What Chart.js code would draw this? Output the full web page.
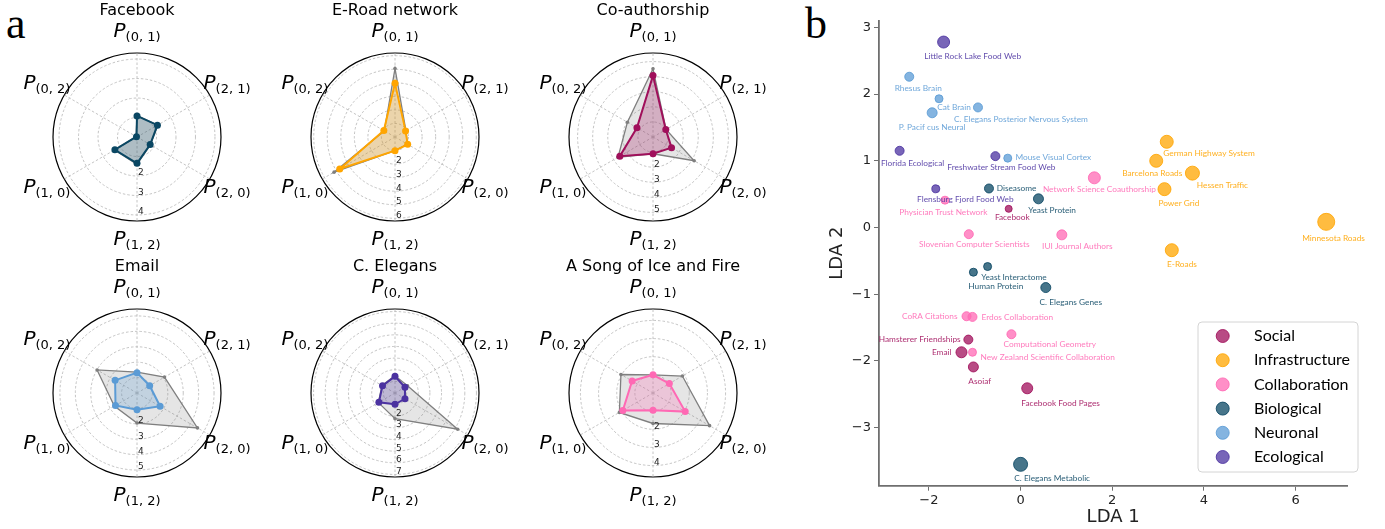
<!DOCTYPE html>
<html><head><meta charset="utf-8">
<script src="https://cdn.jsdelivr.net/npm/chart.js@4.4.1/dist/chart.umd.min.js"></script>
<style>
html,body{margin:0;padding:0;background:#fff;}
#wrap{position:relative;width:1385px;height:529px;overflow:hidden;background:#fff;}
canvas{position:absolute;}
.panel{position:absolute;font-family:"Liberation Serif",serif;font-size:44px;line-height:44px;color:#000;}
</style></head><body>
<div id="wrap">
<div class="panel" style="left:6px;top:2px">a</div>
<div class="panel" style="left:805px;top:2px">b</div>
<canvas id="r0" width="270" height="260" style="left:2px;top:0px"></canvas>
<canvas id="r1" width="270" height="260" style="left:260px;top:0px"></canvas>
<canvas id="r2" width="270" height="260" style="left:518px;top:0px"></canvas>
<canvas id="r3" width="270" height="260" style="left:2px;top:256px"></canvas>
<canvas id="r4" width="270" height="260" style="left:260px;top:256px"></canvas>
<canvas id="r5" width="270" height="260" style="left:518px;top:256px"></canvas>
<canvas id="sc" width="575" height="529" style="left:810px;top:0px"></canvas>
</div>
<script>
// ---------- Radar data (panel a) ----------
const radarAxes = ['(0, 1)', '(2, 1)', '(2, 0)', '(1, 2)', '(1, 0)', '(0, 2)'];
const radarTitles = ['Facebook', 'E-Road network', 'Co-authorship', 'Email', 'C. Elegans', 'A Song of Ice and Fire'];
const facebookValues    = [1.08, 1.21, 0.78, 1.35, 1.31, 0.03];
const facebookReference = [1.10, 1.23, 0.80, 1.40, 1.33, 0.05];
const eroadValues       = [3.96, 0.90, 1.08, 1.01, 4.71, 0.95];
const eroadReference    = [5.06, 0.93, 1.06, 1.01, 5.19, 0.91];
const coauthValues      = [4.07, 0.98, 1.42, 1.11, 2.54, 1.23];
const coauthReference   = [4.52, 1.00, 3.15, 1.11, 2.68, 1.96];
const emailValues       = [1.32, 0.95, 1.73, 1.08, 1.61, 1.64];
const emailReference    = [1.36, 2.06, 4.53, 1.95, 1.70, 2.99];
const celegansValues    = [1.43, 0.99, 0.99, 0.97, 1.60, 1.24];
const celegansReference = [1.49, 1.24, 6.22, 2.21, 1.65, 1.29];
const asoiafValues      = [1.00, 1.04, 2.05, 0.95, 1.92, 1.33];
const asoiafReference   = [1.00, 1.87, 3.60, 1.68, 2.14, 2.04];
const radarMax = [4.31, 6.2, 5.57, 5.45, 7.22, 4.63];
const radarTickLabels = [[2,3,4],[2,3,4,5,6],[2,3,4,5],[2,3,4,5],[2,3,4,5,6,7],[2,3,4]];

// ---------- Scatter data (panel b) ----------
const categories = ['Social', 'Infrastructure', 'Collaboration', 'Biological', 'Neuronal', 'Ecological'];
const networkNames = [
 'Little Rock Lake Food Web','Rhesus Brain','Cat Brain','C. Elegans Posterior Nervous System','P. Pacif cus Neural',
 'Florida Ecological','Freshwater Stream Food Web','Mouse Visual Cortex','Network Science Coauthorship','Diseasome',
 'Flensburg Fjord Food Web','Physician Trust Network','Yeast Protein','Facebook','Slovenian Computer Scientists',
 'IUI Journal Authors','Human Protein','Yeast Interactome','C. Elegans Genes','CoRA Citations',
 'Erdos Collaboration','Computational Geometry','Hamsterer Friendships','Email','New Zealand Scientific Collaboration',
 'Asoiaf','Facebook Food Pages','C. Elegans Metabolic','German Highway System','Barcelona Roads',
 'Hessen Traffic','Power Grid','Minnesota Roads','E-Roads'];
const networkCategory = [
 'Ecological','Neuronal','Neuronal','Neuronal','Neuronal',
 'Ecological','Ecological','Neuronal','Collaboration','Biological',
 'Ecological','Collaboration','Biological','Social','Collaboration',
 'Collaboration','Biological','Biological','Biological','Collaboration',
 'Collaboration','Collaboration','Social','Social','Collaboration',
 'Social','Social','Biological','Infrastructure','Infrastructure',
 'Infrastructure','Infrastructure','Infrastructure','Infrastructure'];
const lda1 = [-1.68,-2.43,-1.78,-0.93,-1.93, -2.64,-0.55,-0.28,1.61,-0.69, -1.85,-1.65,0.39,-0.26,-1.13,
              0.90,-1.03,-0.72,0.55,-1.18, -1.05,-0.20,-1.14,-1.29,-1.05, -1.03,0.145,0.0,3.19,2.96, 3.75,3.14,6.67,3.30];
const lda2 = [2.78,2.26,1.93,1.80,1.72, 1.15,1.07,1.04,0.745,0.585, 0.58,0.41,0.43,0.28,-0.10,
              -0.11,-0.67,-0.585,-0.90,-1.33, -1.34,-1.60,-1.68,-1.87,-1.87, -2.09,-2.41,-3.55,1.285,1.00, 0.815,0.575,0.085,-0.34];
const networkSize = [6,4.5,4,4.5,5, 4.5,4.5,4,6,4.5, 4,4,5,3.5,4.5, 5,4,4,5,4.5, 4.5,4.5,4.5,5.5,4, 5,5.5,7,6.5,6.5, 7,6.5,8.5,6.5];
const xTicks = [-2, 0, 2, 4, 6];
const yTicks = [-3, -2, -1, 0, 1, 2, 3];

// ---------- styles / layout ----------
const radarColors = ['#0a4763', '#ffa500', '#a00f5b', '#5b9bd5', '#4b32a0', '#ff69b4'];
const catColors = {Social:'#a00f5b', Infrastructure:'#ffa500', Collaboration:'#ff69b4', Biological:'#0a4763', Neuronal:'#5b9bd5', Ecological:'#4b32a0'};
// label placement [align, dx px, dy px] relative to the marker
const labelPlacement = [
 ['center',29,14],['center',9,11.7],['center',15,8.3],['center',43,11.7],['center',0,14.3],
 ['center',13,12.7],['center',6,10.7],['left',7.7,-1.3],['center',5,12],['left',7.7,0],
 ['center',29.5,10],['center',-1.6,11.7],['center',13.6,11.3],['center',3.6,8.3],['center',5.5,10],
 ['center',15.5,11],['center',22.4,13.7],['center',26.3,10.3],['center',25,14.3],['right',-9,0],
 ['left',9,0],['center',38.3,9.7],['right',-7.7,0],['right',-10,0],['left',8,5.3],
 ['center',6.4,14],['center',33.4,14.7],['center',31.6,14.3],['center',42.3,11.3],['center',-4,12.3],
 ['center',30,11.7],['center',14.5,13.7],['center',7.3,16],['center',10.2,13.7]];

function rgba(hex, a) { const n = parseInt(hex.slice(1), 16); return `rgba(${n >> 16},${(n >> 8) & 255},${n & 255},${a})`; }

Chart.defaults.font.family = '"DejaVu Sans", sans-serif';

const radarDecor = {
  id: 'radarDecor',
  afterDraw(chart, args, opts) {
    const s = chart.scales.r, ctx = chart.ctx, R = s.drawingArea;
    ctx.save();
    ctx.fillStyle = '#000';
    ctx.font = '16px "DejaVu Sans"';
    ctx.textAlign = 'center'; ctx.textBaseline = 'middle';
    ctx.fillText(opts.title, s.xCenter, s.yCenter - 126);
    ctx.font = '9px "DejaVu Sans"';
    ctx.textAlign = 'left'; ctx.fillStyle = '#222';
    opts.tickLabels.forEach(v => ctx.fillText(String(v), s.xCenter + 1, s.yCenter + s.getDistanceFromCenterForValue(v) - 3));
    ctx.textBaseline = 'alphabetic'; ctx.fillStyle = '#000';
    chart.data.labels.forEach((lab, i) => {
      const p = s.getPointPosition(i, R + 20);
      ctx.font = 'italic 20px "DejaVu Sans"';
      const wP = ctx.measureText('P').width;
      ctx.font = '13px "DejaVu Sans"';
      const wS = ctx.measureText(lab).width;
      const x0 = p.x - (wP + wS) / 2, base = p.y + 4.4;
      ctx.font = 'italic 20px "DejaVu Sans"';
      ctx.textAlign = 'left';
      ctx.fillText('P', x0, base);
      ctx.font = '13px "DejaVu Sans"';
      ctx.fillText(lab, x0 + wP, base + 4);
    });
    ctx.restore();
  }
};

function makeRadar(id, title, vals, ref, maxV, tickLabels, color) {
  const gridVals = [];
  for (let v = 0; v <= Math.floor(maxV); v++) gridVals.push(v);
  if (gridVals[gridVals.length - 1] !== maxV) gridVals.push(maxV);
  const isOuter = c => c.tick && c.tick.value === maxV;
  new Chart(document.getElementById(id), {
    type: 'radar',
    data: { labels: radarAxes, datasets: [
      { data: vals, borderColor: color, backgroundColor: rgba(color, 0.25), borderWidth: 2, pointRadius: 3.5,
        pointBackgroundColor: color, pointBorderColor: color, pointBorderWidth: 0, fill: true },
      { data: ref, borderColor: '#7f7f7f', backgroundColor: 'rgba(127,127,127,0.2)', borderWidth: 1.3, pointRadius: 1.8,
        pointBackgroundColor: '#7f7f7f', pointBorderColor: '#7f7f7f', pointBorderWidth: 0, fill: true }
    ]},
    options: {
      responsive: false, animation: false, events: [],
      layout: { padding: { left: 51, right: 51, top: 53, bottom: 39 } },
      plugins: { legend: { display: false }, tooltip: { enabled: false }, radarDecor: { title, tickLabels } },
      scales: { r: {
        min: 0, max: maxV, startAngle: 0,
        afterBuildTicks: s => { s.ticks = gridVals.map(v => ({ value: v })); },
        ticks: { display: false },
        pointLabels: { display: false },
        grid: { circular: true, color: c => isOuter(c) ? '#000' : '#b5b5b5', lineWidth: c => isOuter(c) ? 1.2 : 0.8 },
        border: { dash: c => isOuter(c) ? [] : [2.5, 2] },
        angleLines: { display: true, color: '#b5b5b5', lineWidth: 0.8, borderDash: [2.5, 2] }
      }}
    },
    plugins: [radarDecor]
  });
}

makeRadar('r0', radarTitles[0], facebookValues, facebookReference, radarMax[0], radarTickLabels[0], radarColors[0]);
makeRadar('r1', radarTitles[1], eroadValues, eroadReference, radarMax[1], radarTickLabels[1], radarColors[1]);
makeRadar('r2', radarTitles[2], coauthValues, coauthReference, radarMax[2], radarTickLabels[2], radarColors[2]);
makeRadar('r3', radarTitles[3], emailValues, emailReference, radarMax[3], radarTickLabels[3], radarColors[3]);
makeRadar('r4', radarTitles[4], celegansValues, celegansReference, radarMax[4], radarTickLabels[4], radarColors[4]);
makeRadar('r5', radarTitles[5], asoiafValues, asoiafReference, radarMax[5], radarTickLabels[5], radarColors[5]);

// ---------- Scatter ----------
const netLabels = {
  id: 'netLabels',
  afterDatasetsDraw(chart) {
    const { ctx, scales: { x, y } } = chart;
    ctx.save();
    ctx.font = '8.3px Lato';
    ctx.textBaseline = 'middle';
    networkNames.forEach((name, i) => {
      const [align, dx, dy] = labelPlacement[i];
      ctx.fillStyle = rgba(catColors[networkCategory[i]], 0.88);
      ctx.textAlign = align;
      ctx.fillText(name, x.getPixelForValue(lda1[i]) + dx, y.getPixelForValue(lda2[i]) + dy);
    });
    ctx.restore();
  }
};
const boxLegend = {
  id: 'boxLegend',
  afterDraw(chart) {
    const { ctx, chartArea: ca } = chart;
    const w = 160, h = 150, right = ca.right + 10.7, bottom = ca.bottom - 13.7;
    const left = right - w, top = bottom - h, r = 4;
    ctx.save();
    ctx.beginPath();
    ctx.moveTo(left + r, top); ctx.lineTo(right - r, top); ctx.quadraticCurveTo(right, top, right, top + r);
    ctx.lineTo(right, bottom - r); ctx.quadraticCurveTo(right, bottom, right - r, bottom);
    ctx.lineTo(left + r, bottom); ctx.quadraticCurveTo(left, bottom, left, bottom - r);
    ctx.lineTo(left, top + r); ctx.quadraticCurveTo(left, top, left + r, top); ctx.closePath();
    ctx.fillStyle = 'rgba(255,255,255,0.85)'; ctx.fill();
    ctx.strokeStyle = '#d4d4d4'; ctx.lineWidth = 1; ctx.stroke();
    chart.data.datasets.forEach((ds, i) => {
      const cy = top + 14 + i * 24.2;
      ctx.beginPath(); ctx.arc(left + 24.7, cy, 6.5, 0, Math.PI * 2);
      ctx.fillStyle = ds.backgroundColor; ctx.fill();
      ctx.strokeStyle = ds.borderColor; ctx.lineWidth = 1; ctx.stroke();
      ctx.fillStyle = '#000'; ctx.font = '16px Lato'; ctx.textAlign = 'left'; ctx.textBaseline = 'middle';
      ctx.fillText(ds.label, left + 56, cy);
    });
    ctx.restore();
  }
};

const fmt = v => v < 0 ? '\u2212' + Math.abs(v) : String(v);
const scatterDatasets = categories.map(cat => {
  const idx = networkNames.map((n, i) => i).filter(i => networkCategory[i] === cat);
  return {
    label: cat,
    data: idx.map(i => ({ x: lda1[i], y: lda2[i] })),
    pointRadius: idx.map(i => networkSize[i]),
    backgroundColor: rgba(catColors[cat], 0.75),
    borderColor: rgba(catColors[cat], 0.85),
    borderWidth: 1
  };
});
const axisCommon = {
  type: 'linear',
  grid: { display: true, drawOnChartArea: false, drawTicks: true, tickLength: 5, color: '#6f6f6f', lineWidth: 1 },
  border: { display: true, color: '#6f6f6f', width: 1.8 },
};
new Chart(document.getElementById('sc'), {
  type: 'scatter',
  data: { datasets: scatterDatasets },
  options: {
    responsive: false, animation: false, events: [],
    layout: { padding: { left: 0, top: 20.7, right: 37.7, bottom: 0 } },
    plugins: { legend: { display: false }, tooltip: { enabled: false } },
    scales: {
      x: Object.assign({}, axisCommon, {
        min: -3.09, max: 7.13,
        afterBuildTicks: s => { s.ticks = xTicks.map(v => ({ value: v })); },
        afterFit: s => { s.height = 43.3; },
        ticks: { font: { size: 13 }, color: '#222', padding: 2, maxRotation: 0, callback: v => fmt(v) },
        title: { display: true, text: 'LDA 1', font: { size: 18 }, color: '#222', padding: { top: 0, bottom: 1 } }
      }),
      y: Object.assign({}, axisCommon, {
        min: -3.87, max: 3.10,
        afterBuildTicks: s => { s.ticks = yTicks.map(v => ({ value: v })); },
        afterFit: s => { s.width = 69; },
        ticks: { font: { size: 13 }, color: '#222', padding: 3, callback: v => fmt(v) },
        title: { display: true, text: 'LDA 2', font: { size: 18 }, color: '#222', padding: { top: 17, bottom: 0 } }
      })
    }
  },
  plugins: [netLabels, boxLegend]
});
</script>
</body></html>
